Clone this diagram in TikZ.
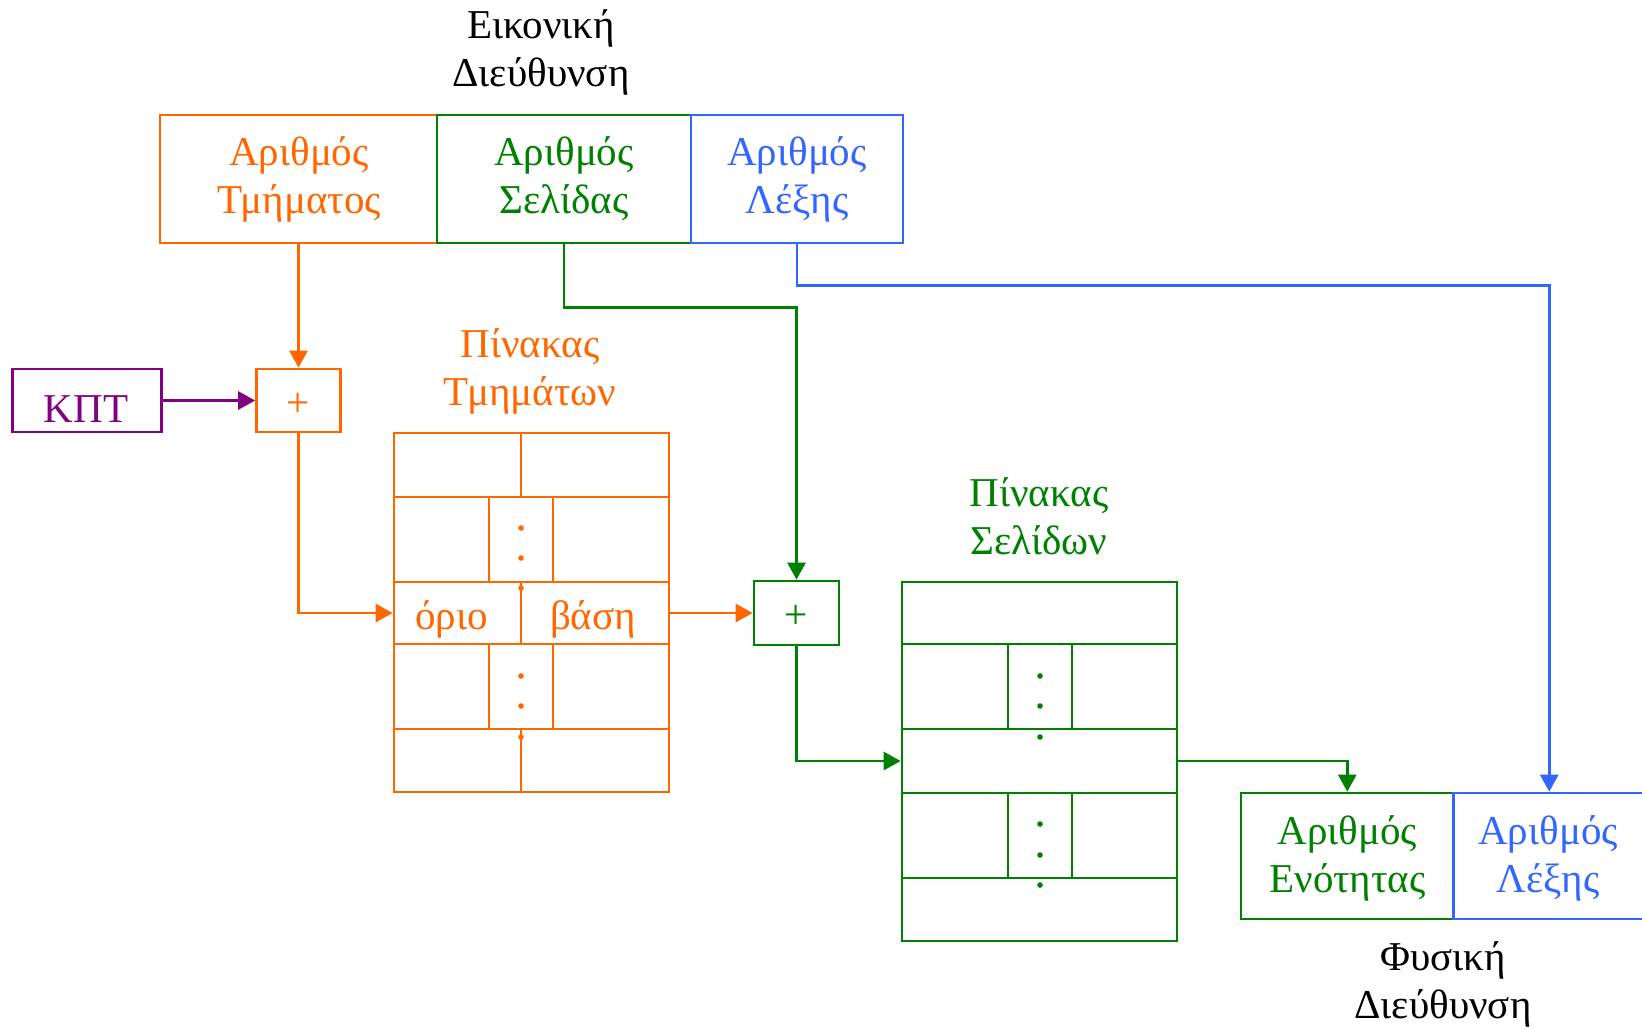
\documentclass[tikz,border=0pt]{standalone}
\usepackage{fontspec}
\setmainfont{Liberation Serif}
\usetikzlibrary{arrows.meta}
\definecolor{cOr}{HTML}{FF6600}
\definecolor{cGr}{HTML}{008000}
\definecolor{cBl}{HTML}{3366FF}
\definecolor{cPu}{HTML}{800080}
% two centred lines, baseline = first line
\newcommand{\twolines}[2]{\vtop{\baselineskip=24.3pt\lineskiplimit=-20pt\halign{\hfil##\hfil\cr #1\cr #2\cr}}}
\tikzset{
  box/.style={draw, line width=1.35pt, inner sep=0pt},
  lbl/.style={inner sep=0pt, anchor=base, font=\fontsize{20.5}{24.3}\selectfont},
  arr/.style={-{Triangle[length=8.5pt,width=9pt]}, line width=1.35pt},
  tline/.style={line width=1.35pt},
  dot/.style={circle, fill, inner sep=0pt, minimum size=2.8pt}
}
\begin{document}
\begin{tikzpicture}[x=0.5pt,y=-0.5pt]
\useasboundingbox (0,0) rectangle (1642,1029);
\clip (0,0) rectangle (1642,1029);

% titles
\node[lbl] (vtitle) at (541,38) {\twolines{Εικονική}{Διεύθυνση}};
\node[lbl, text=cOr] (sttitle) at (530,357) {\twolines{Πίνακας}{Τμημάτων}};
\node[lbl, text=cGr] (pttitle) at (1039,506) {\twolines{Πίνακας}{Σελίδων}};
\node[lbl] (ptitle) at (1443,970) {\twolines{Φυσική}{Διεύθυνση}};

% virtual address
\node[box, draw=cOr, minimum width=138.5pt, minimum height=64pt] (seg) at (298.5,179) {};
\node[box, draw=cGr, minimum width=127pt, minimum height=64pt] (pag) at (564,179) {};
\node[box, draw=cBl, minimum width=106pt, minimum height=64pt] (wrd) at (797,179) {};
\node[lbl, text=cOr] (segtxt) at (299,165) {\twolines{Αριθμός}{Τμήματος}};
\node[lbl, text=cGr] (pagtxt) at (564,165) {\twolines{Αριθμός}{Σελίδας}};
\node[lbl, text=cBl] (wrdtxt) at (797,165) {\twolines{Αριθμός}{Λέξης}};

% KPT and adders
\node[box, draw=cPu, minimum width=74.5pt, minimum height=31.5pt] (kpt) at (87,400.5) {};
\node[lbl, text=cPu] (kpttxt) at (86,422) {ΚΠΤ};
\node[box, draw=cOr, minimum width=42pt, minimum height=31.5pt] (plusS) at (298.5,400.5) {};
\node[lbl, anchor=center, text=cOr] (plusStxt) at (298.5,405) {+};
\node[box, draw=cGr, minimum width=42.5pt, minimum height=32pt] (plusP) at (796.5,613) {};
\node[lbl, anchor=center, text=cGr] (plusPtxt) at (796.5,617) {+};

% segment table
\begin{scope}[cOr, tline]
\draw (394,433) rectangle (669,792);
\foreach \yy in {497,582,644,729} \draw (394,\yy) -- (669,\yy);
\draw (521,433) -- (521,497);
\draw (521,729) -- (521,792);
\draw (489,497) rectangle (553,582);
\draw (489,644) rectangle (553,729);
\foreach \yy in {528,558,588,676,706,737} \node[dot] at (521,\yy) {};
\end{scope}
\node[box, draw=cOr, minimum width=63.5pt, minimum height=31pt] (orio) at (457.5,613) {};
\node[box, draw=cOr, minimum width=74pt, minimum height=31pt] (vasi) at (595,613) {};
\node[lbl, text=cOr] (oriotxt) at (451.5,629) {όριο};
\node[lbl, text=cOr] (vasitxt) at (593,629) {βάση};

% page table
\begin{scope}[cGr, tline]
\draw (902,582) rectangle (1177,941);
\foreach \yy in {644,878} \draw (902,\yy) -- (1177,\yy);
\draw (1008,644) rectangle (1072,729);
\draw (1008,793) rectangle (1072,878);
\foreach \yy in {676,706,737,824,855,885} \node[dot] at (1040,\yy) {};
\end{scope}
\node[box, draw=cGr, minimum width=137.5pt, minimum height=32pt] (pgrow) at (1039.5,761) {};

% physical address
\node[box, draw=cGr, minimum width=106.25pt, minimum height=63pt] (frame) at (1347.25,856) {};
\node[box, draw=cBl, minimum width=95.75pt, minimum height=63pt] (off) at (1549.25,856) {};
\node[lbl, text=cGr] (frametxt) at (1347.5,844) {\twolines{Αριθμός}{Ενότητας}};
\node[lbl, text=cBl] (offtxt) at (1548,844) {\twolines{Αριθμός}{Λέξης}};

% connectors
\draw[arr, cOr] (seg.south) -- (plusS.north);
\draw[arr, cPu] (kpt.east) -- (plusS.west);
\draw[arr, cOr] (plusS.south) |- (orio.west);
\draw[arr, cOr] (vasi.east) -- (plusP.west);
\draw[arr, cGr] (pag.south) -- ++(0,63) -| (plusP.north);
\draw[arr, cGr] (plusP.south) |- (pgrow.west);
\draw[arr, cGr] (pgrow.east) -| (frame.north);
\draw[arr, cBl] (wrd.south) -- ++(0,41) -| (off.north);
\end{tikzpicture}
\end{document}
